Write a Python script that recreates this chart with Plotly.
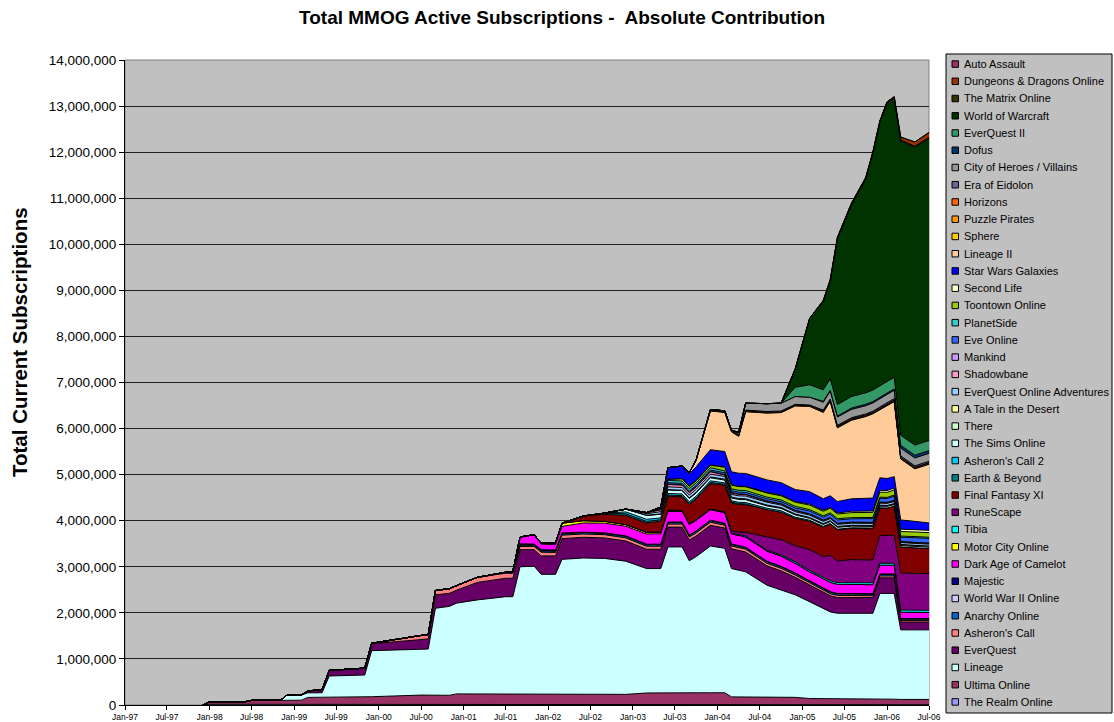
import plotly.graph_objects as go

UNIT = 1000  # subscriber values below are in thousands

# keyframe months shared by every series (each series covers a contiguous run of them)
months = ["1997-12", "1998-01", "1998-06", "1998-07", "1998-11", "1998-12", "1999-02", "1999-03",
          "1999-05", "1999-06", "1999-11", "1999-12", "2000-07", "2000-08", "2000-09", "2000-11",
          "2000-12", "2001-03", "2001-07", "2001-08", "2001-09", "2001-11", "2001-12", "2002-02",
          "2002-03", "2002-06", "2002-09", "2002-12", "2003-03", "2003-05", "2003-06", "2003-08",
          "2003-09", "2003-10", "2003-12", "2004-02", "2004-03", "2004-04", "2004-05", "2004-08",
          "2004-10", "2004-12", "2005-02", "2005-04", "2005-05", "2005-06", "2005-08", "2005-10",
          "2005-11", "2005-12", "2006-01", "2006-02", "2006-03", "2006-05", "2006-07"]

tick_dates = ["1997-01-01", "1997-07-01", "1998-01-01", "1998-07-01", "1999-01-01", "1999-07-01",
              "2000-01-01", "2000-07-01", "2001-01-01", "2001-07-01", "2002-01-01", "2002-07-01",
              "2003-01-01", "2003-07-01", "2004-01-01", "2004-07-01", "2005-01-01", "2005-07-01",
              "2006-01-01", "2006-07-01"]
tick_labels = ["Jan-97", "Jul-97", "Jan-98", "Jul-98", "Jan-99", "Jul-99", "Jan-00", "Jul-00",
               "Jan-01", "Jul-01", "Jan-02", "Jul-02", "Jan-03", "Jul-03", "Jan-04", "Jul-04",
               "Jan-05", "Jul-05", "Jan-06", "Jul-06"]

# (first month, values in thousands)
the_realm_online = ("1997-12", [0, 15, 15, 15, 15, 15, 15, 15, 15, 15, 15, 15, 15, 15, 15,
                                6, 6, 6, 6, 6, 6, 6, 6, 6, 6, 6, 6, 6, 6, 6, 6, 6, 6, 6, 6,
                                6, 6, 6, 6, 6, 6, 6, 6, 6, 6, 6, 6, 6, 6, 6, 6, 6, 6, 6, 6])
ultima_online = ("1997-12", [0, 55, 55, 85, 85, 90, 90, 150, 150, 155, 160,
                             165, 200, 200, 205, 205, 235, 235, 235, 235, 235,
                             235, 230, 230, 230, 235, 240, 225, 255, 260, 260,
                             260, 260, 260, 260, 260, 170, 170, 170, 170, 165,
                             160, 135, 135, 135, 135, 135, 135, 130, 125, 120,
                             120, 115, 115, 115])
lineage = ("1998-12", [110, 110, 100, 100, 460, 475, 1000, 995, 1000, 1880,
                       1930, 1970, 2040, 2110, 2110, 2760, 2770, 2600, 2600, 2925,
                       2950, 2935, 2890, 2700, 2695, 3165, 3165, 2865, 2955, 3185,
                       3135, 2785, 2745, 2715, 2425, 2330, 2225, 2100, 1960, 1880,
                       1850, 1850, 1850, 1855, 2290, 2295, 2295, 1510, 1510, 1510])
everquest = ("1999-03", [40, 70, 120, 150, 150, 210, 220, 290, 285, 280,
                         380, 400, 400, 370, 360, 400, 400, 450, 450, 445,
                         440, 420, 420, 430, 430, 450, 450, 450, 440, 430,
                         430, 430, 420, 410, 380, 360, 350, 350, 340, 340,
                         340, 340, 340, 340, 340, 170, 170, 170])
asherons_call = ("1999-12", [10, 90, 95, 95, 100, 100, 110, 110, 105, 70,
                             70, 80, 75, 75, 70, 70, 65, 65, 65, 65,
                             65, 65, 65, 65, 60, 60, 60, 60, 55, 55,
                             50, 45, 45, 45, 45, 45, 40, 40, 40, 40,
                             40, 35, 35, 35])
anarchy_online = ("2001-07", [10, 20, 25, 25, 25, 25, 25, 25, 25, 30, 30, 30, 30, 30, 30, 30, 30, 30, 30,
                              30, 30, 30, 30, 30, 30, 30, 30, 30, 30, 30, 30, 30, 30, 30, 25, 25, 25])
world_war_ii_online = ("2001-07", [10, 15, 15, 15, 15, 15, 15, 15, 15, 15, 15, 15, 15, 15, 15, 15, 15, 15, 15,
                                   15, 15, 15, 15, 15, 15, 15, 15, 15, 15, 15, 15, 15, 15, 15, 15, 15, 15])
majestic = ("2001-08", [10, 15, 15, 15, 12, 10, 0])
dark_age_of_camelot = ("2001-09", [150, 200, 120, 120, 140, 200, 210, 210, 220, 225,
                                   230, 230, 230, 230, 230, 230, 220, 220, 220, 220,
                                   220, 210, 200, 200, 200, 200, 200, 195, 195, 190,
                                   190, 190, 140, 140, 135])
motor_city_online = ("2001-12", [20, 30, 70, 50, 40, 35, 30, 25, 20, 10, 0])
tibia = ("2003-03", [10, 10, 10, 10, 10, 12, 15, 15, 15, 15, 20, 20, 25, 30, 30, 30, 35, 35, 35, 35,
                     40, 40, 40, 40, 45, 45, 45])
runescape = ("2004-03", [50, 60, 80, 280, 330, 350, 450, 450, 550, 470, 500, 500, 500, 600, 600, 610,
                         800, 800, 800])
final_fantasy_xi = ("2002-06", [100, 150, 200, 200, 240, 300, 300, 420, 450, 550,
                                580, 600, 600, 600, 600, 600, 600, 620, 640, 680,
                                680, 680, 680, 680, 600, 600, 630, 570, 550, 540])
earth_and_beyond = ("2002-09", [30, 35, 35, 30, 25, 25, 25, 25, 25, 20, 20, 20, 20, 0])
asherons_call_2 = ("2002-12", [40, 45, 40, 35, 35, 35, 35, 35, 30, 30, 30, 30, 30, 30, 20, 20, 15, 15,
                               10, 10, 10, 10, 5, 0])
the_sims_online = ("2002-12", [60, 85, 80, 80, 75, 70, 70, 65, 60, 60, 60, 60, 50, 50, 50, 40, 40, 40,
                               40, 35, 35, 35, 35, 35, 35, 30, 30, 30])
there = ("2003-09", [10, 12, 15, 15, 15, 15, 15, 15, 15, 15, 15, 15, 15, 15, 15, 15, 15, 15, 15, 15,
                     20, 20, 20])
a_tale_in_the_desert = ("2003-03", [5, 5, 5, 5, 5, 5, 5, 5, 5, 5, 5, 5, 5, 5, 5, 5, 5, 5, 5, 5,
                                    5, 5, 5, 5, 5, 5, 5])
everquest_online_adventures = ("2003-03", [30, 50, 60, 60, 60, 60, 60, 60, 60, 60, 60, 60, 55, 50, 50,
                                           50, 45, 45, 45, 45, 45, 45, 45, 45, 40, 40, 40])
shadowbane = ("2003-03", [20, 40, 50, 50, 50, 50, 50, 30, 30, 30, 30, 20, 20, 20, 20, 20, 15, 15, 15,
                          15, 15, 15, 15, 15, 15, 15, 15])
mankind = ("2003-03", [5, 10, 10, 10, 10, 10, 10, 10, 10, 10, 10, 10, 10, 10, 10, 10, 10, 10, 10, 10,
                       10, 10, 10, 10, 10, 10, 10])
eve_online = ("2003-05", [20, 30, 30, 30, 30, 30, 40, 40, 40, 40, 45, 45, 50, 60, 60, 70, 70, 70, 80,
                          80, 80, 80, 90, 90, 100, 100])
planetside = ("2003-05", [30, 50, 50, 50, 50, 50, 40, 40, 40, 40, 35, 35, 35, 30, 30, 30, 30, 25, 25,
                          25, 25, 25, 25, 25, 25, 25])
toontown_online = ("2003-06", [20, 50, 50, 50, 50, 80, 80, 80, 80, 90, 90, 90, 100, 100, 100, 100, 110,
                               110, 110, 110, 110, 110, 100, 100, 100])
second_life = ("2003-06", [5, 5, 5, 5, 10, 10, 10, 10, 10, 15, 15, 15, 20, 20, 20, 20, 30, 30, 30, 40,
                           40, 40, 50, 50, 50])
star_wars_galaxies = ("2003-06", [250, 270, 260, 300, 330, 330, 280, 280, 280, 270, 270, 260, 270, 250,
                                  250, 250, 270, 280, 280, 270, 260, 250, 200, 180, 160])
lineage_ii = ("2003-09", [30, 150, 840, 850, 870, 800, 1340, 1450, 1520, 1815, 1850, 1875, 2050, 1600,
                          1705, 1775, 1830, 1480, 1580, 1630, 1325, 1140, 1275])
sphere = ("2003-12", [5, 5, 5, 5, 5, 5, 5, 5, 5, 5, 5, 5, 5, 5, 5, 5, 5, 5, 5, 5, 5])
puzzle_pirates = ("2003-12", [5, 5, 10, 10, 10, 10, 10, 10, 10, 10, 10, 15, 15, 15, 15, 15, 15, 15,
                              20, 20, 20])
horizons = ("2003-12", [20, 25, 20, 20, 20, 20, 20, 20, 15, 15, 15, 15, 15, 15, 15, 15, 15, 15,
                        10, 10, 10])
era_of_eidolon = ("2005-04", [20, 20, 20, 20, 20, 20, 30, 30, 30, 30, 30, 30])
city_of_heroes_villains = ("2004-04", [50, 150, 170, 170, 170, 170, 170, 170, 180, 180, 180, 180, 180,
                                       180, 180, 170, 170, 170])
dofus = ("2005-04", [20, 20, 20, 30, 30, 30, 30, 30, 30, 60, 60, 60])
everquest_ii = ("2004-12", [200, 270, 250, 250, 250, 250, 250, 250, 250, 250, 250, 220, 220, 220])
world_of_warcraft = ("2004-12", [400, 1440, 1900, 2110, 3590, 4160, 4630, 5130, 5700, 6030, 6050,
                                 6380, 6460, 6550])
the_matrix_online = ("2005-04", [40, 40, 40, 40, 40, 40, 40, 40, 40, 30, 30, 30])
dungeons_and_dragons_online = ("2006-03", [60, 90, 100])
auto_assault = ("2006-07", [10])

# stacking order: bottom -> top
SERIES = [
    ("The Realm Online", the_realm_online, "#9999FF"),
    ("Ultima Online", ultima_online, "#993366"),
    ("Lineage", lineage, "#CCFFFF"),
    ("EverQuest", everquest, "#660066"),
    ("Asheron's Call", asherons_call, "#FF8080"),
    ("Anarchy Online", anarchy_online, "#0066CC"),
    ("World War II Online", world_war_ii_online, "#CCCCFF"),
    ("Majestic", majestic, "#000080"),
    ("Dark Age of Camelot", dark_age_of_camelot, "#FF00FF"),
    ("Motor City Online", motor_city_online, "#FFFF00"),
    ("Tibia", tibia, "#00FFFF"),
    ("RuneScape", runescape, "#800080"),
    ("Final Fantasy XI", final_fantasy_xi, "#800000"),
    ("Earth & Beyond", earth_and_beyond, "#008080"),
    ("Asheron's Call 2", asherons_call_2, "#00CCFF"),
    ("The Sims Online", the_sims_online, "#CCFFFF"),
    ("There", there, "#CCFFCC"),
    ("A Tale in the Desert", a_tale_in_the_desert, "#FFFF99"),
    ("EverQuest Online Adventures", everquest_online_adventures, "#99CCFF"),
    ("Shadowbane", shadowbane, "#FF99CC"),
    ("Mankind", mankind, "#CC99FF"),
    ("Eve Online", eve_online, "#3366FF"),
    ("PlanetSide", planetside, "#33CCCC"),
    ("Toontown Online", toontown_online, "#99CC00"),
    ("Second Life", second_life, "#FFFFCC"),
    ("Star Wars Galaxies", star_wars_galaxies, "#0000FF"),
    ("Lineage II", lineage_ii, "#FFCC99"),
    ("Sphere", sphere, "#FFCC00"),
    ("Puzzle Pirates", puzzle_pirates, "#FF9900"),
    ("Horizons", horizons, "#FF6600"),
    ("Era of Eidolon", era_of_eidolon, "#666699"),
    ("City of Heroes / Villains", city_of_heroes_villains, "#969696"),
    ("Dofus", dofus, "#003366"),
    ("EverQuest II", everquest_ii, "#339966"),
    ("World of Warcraft", world_of_warcraft, "#003300"),
    ("The Matrix Online", the_matrix_online, "#333300"),
    ("Dungeons & Dragons Online", dungeons_and_dragons_online, "#993300"),
    ("Auto Assault", auto_assault, "#993366"),
]

# ---------------- figure ----------------
W, H = 1114, 722
PL, PR, PT, PB = 125, 929, 60, 705  # plot area in pixels


def px_x(px):
    return (px - PL) / (PR - PL)


def px_y(py):
    return (PB - py) / (PB - PT)


FONT = "Liberation Sans, Arial, Helvetica, sans-serif"

fig = go.Figure()
for name, (start, vals), color in SERIES:
    i0 = months.index(start)
    xs = [m + "-01" for m in months[i0:i0 + len(vals)]]
    ys = [v * UNIT for v in vals]
    fig.add_trace(go.Scatter(
        x=xs, y=ys, name=name, mode="lines", stackgroup="all", stackgaps="infer zero",
        line=dict(color="black", width=1), fillcolor=color, showlegend=False,
        hovertemplate="%{x|%b-%y}: %{y:,}<extra>" + name + "</extra>",
    ))

annotations = []
shapes = []

# chart title
annotations.append(dict(text="<b>Total MMOG Active Subscriptions -  Absolute Contribution</b>",
                        xref="paper", yref="paper", x=px_x(562), y=px_y(18),
                        xanchor="center", yanchor="middle", showarrow=False,
                        font=dict(family=FONT, size=19, color="black")))
# y axis title
annotations.append(dict(text="<b>Total Current Subscriptions</b>", textangle=-90,
                        xref="paper", yref="paper", x=px_x(19), y=px_y(342),
                        xanchor="center", yanchor="middle", showarrow=False,
                        font=dict(family=FONT, size=20.5, color="black")))

# plot-area border (grey)
shapes.append(dict(type="rect", xref="paper", yref="paper", x0=0, x1=1, y0=0, y1=1,
                   line=dict(color="#808080", width=1), layer="below"))

# manual legend
LG_X0, LG_X1, LG_Y0, LG_Y1 = 946, 1112, 54, 713
shapes.append(dict(type="rect", xref="paper", yref="paper",
                   x0=px_x(LG_X0), x1=px_x(LG_X1), y0=px_y(LG_Y1), y1=px_y(LG_Y0),
                   line=dict(color="black", width=1), fillcolor="#C0C0C0", layer="below"))
first_y, step = 64.0, 17.24
for i, (name, _, color) in enumerate(reversed(SERIES)):
    yc = first_y + i * step
    shapes.append(dict(type="rect", xref="paper", yref="paper",
                       x0=px_x(952), x1=px_x(958.5), y0=px_y(yc + 3.3), y1=px_y(yc - 3.2),
                       line=dict(color="black", width=1), fillcolor=color))
    annotations.append(dict(text=name, xref="paper", yref="paper", x=px_x(961.5), y=px_y(yc),
                            xanchor="left", yanchor="middle", showarrow=False,
                            font=dict(family=FONT, size=11, color="black")))

fig.update_layout(
    width=W, height=H,
    margin=dict(l=PL, r=W - PR, t=PT, b=H - PB, pad=0, autoexpand=False),
    paper_bgcolor="white", plot_bgcolor="#C0C0C0",
    showlegend=False,
    font=dict(family=FONT, color="black"),
    annotations=annotations, shapes=shapes,
    xaxis=dict(type="date", range=["1997-01-01", "2006-07-01"], tickvals=tick_dates,
               ticktext=tick_labels, tickangle=0, ticks="outside", ticklen=4, tickcolor="black",
               showline=True, linecolor="black", linewidth=1, showgrid=False, zeroline=False,
               tickfont=dict(family=FONT, size=8.5, color="black"), automargin=False),
    yaxis=dict(range=[0, 14_000_000], dtick=1_000_000, tickformat=",d", ticks="outside",
               ticklen=5, tickcolor="black", showline=True, linecolor="black", linewidth=1,
               showgrid=True, gridcolor="#202020", gridwidth=1, zeroline=False,
               tickfont=dict(family=FONT, size=13.5, color="black"), automargin=False),
)

fig.write_html("out.html", config={"displayModeBar": False},
               post_script="document.body.style.margin='0px';document.body.style.overflow='hidden';")
